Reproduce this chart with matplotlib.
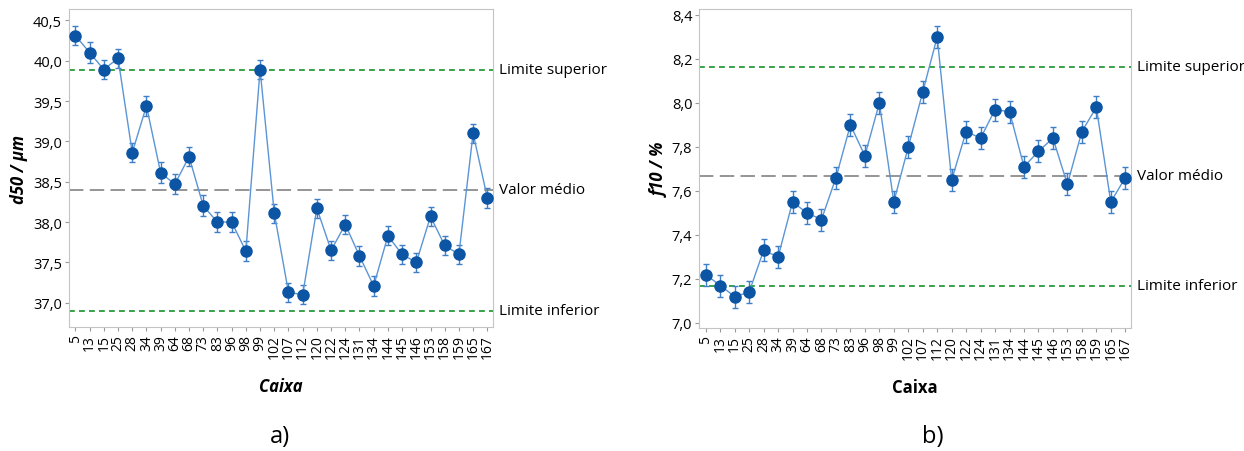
import matplotlib
matplotlib.use("Agg")
import matplotlib.pyplot as plt
from matplotlib.ticker import FuncFormatter, MultipleLocator

plt.rcParams['font.family'] = ['Open Sans', 'DejaVu Sans']

caixas = ['5', '13', '15', '25', '28', '34', '39', '64', '68', '73', '83', '96', '98', '99', '102',
          '107', '112', '120', '122', '124', '131', '134', '144', '145', '146', '153', '158', '159',
          '165', '167']

d50 = [40.31, 40.10, 39.89, 40.03, 38.86, 39.44, 38.61, 38.47, 38.81, 38.20, 38.00, 38.00, 37.64,
       39.89, 38.11, 37.13, 37.10, 38.17, 37.65, 37.97, 37.58, 37.21, 37.83, 37.60, 37.50, 38.07,
       37.71, 37.60, 39.10, 38.30]
d50_err = [0.12, 0.13, 0.12, 0.12, 0.12, 0.12, 0.13, 0.12, 0.12, 0.13, 0.12, 0.12, 0.12,
           0.12, 0.12, 0.12, 0.12, 0.12, 0.12, 0.12, 0.12, 0.12, 0.12, 0.12, 0.12, 0.12,
           0.12, 0.12, 0.12, 0.12]
d50_sup, d50_med, d50_inf = 39.89, 38.40, 36.90

f10 = [7.22, 7.17, 7.12, 7.14, 7.33, 7.30, 7.55, 7.50, 7.47, 7.66, 7.90, 7.76, 8.00, 7.55, 7.80,
       8.05, 8.30, 7.65, 7.87, 7.84, 7.97, 7.96, 7.71, 7.78, 7.84, 7.63, 7.87, 7.98, 7.55, 7.66]
f10_err = [0.05, 0.05, 0.05, 0.05, 0.05, 0.05, 0.05, 0.05, 0.05, 0.05, 0.05, 0.05, 0.05, 0.05, 0.05,
           0.05, 0.05, 0.05, 0.05, 0.05, 0.05, 0.05, 0.05, 0.05, 0.05, 0.05, 0.05, 0.05, 0.05, 0.05]
f10_sup, f10_med, f10_inf = 8.165, 7.67, 7.17

comma = FuncFormatter(lambda v, p: ('%.1f' % v).replace('.', ','))

fig = plt.figure(figsize=(12.44, 4.52), dpi=100)
ax1 = fig.add_axes([0.0555, 0.2743, 0.3408, 0.7036])
ax2 = fig.add_axes([0.5621, 0.2721, 0.3471, 0.7058])


def painel(ax, vals, errs, sup, med, inf, ylim, ystep, ylabel, xstyle, ypad):
    x = list(range(len(caixas)))
    ax.errorbar(x, vals, yerr=errs, fmt='none', ecolor='#3f7fc8', elinewidth=1,
                capsize=2, capthick=1, zorder=2)
    ax.plot(x, vals, '-', color='#5b95d5', lw=1, zorder=3)
    ax.plot(x, vals, 'o', color='#0b55a4', ms=8, zorder=4)
    ax.axhline(sup, color='#17922a', ls=(0, (3.5, 2.5)), lw=1.2, zorder=1)
    ax.axhline(inf, color='#17922a', ls=(0, (3.5, 2.5)), lw=1.2, zorder=1)
    ax.axhline(med, color='#8c8c8c', ls=(0, (8, 3.5)), lw=1.3, zorder=1)
    ax.set_xlim(-0.45, len(caixas) - 0.6)
    ax.set_ylim(*ylim)
    ax.set_xticks(x)
    ax.set_xticklabels(caixas, rotation=90, fontsize=10)
    ax.yaxis.set_major_locator(MultipleLocator(ystep))
    ax.yaxis.set_major_formatter(comma)
    ax.tick_params(axis='y', labelsize=10.5, length=3, color='#9a9a9a', pad=2)
    ax.tick_params(axis='x', length=3, color='#9a9a9a', pad=2)
    for s in ax.spines.values():
        s.set_color('#c4c4c4')
    ax.set_ylabel(ylabel, fontsize=12, fontweight='bold', style='italic', labelpad=ypad)
    ax.set_xlabel('Caixa', fontsize=12, fontweight='bold', style=xstyle, labelpad=14)
    for yv, txt in [(sup, 'Limite superior'), (med, 'Valor médio'), (inf, 'Limite inferior')]:
        ax.annotate(txt, xy=(1, yv), xycoords=('axes fraction', 'data'), xytext=(4, 0),
                    textcoords='offset points', va='center', ha='left', fontsize=11)


painel(ax1, d50, d50_err, d50_sup, d50_med, d50_inf, (36.70, 40.64), 0.5, 'd50 / µm', 'italic', 4)
painel(ax2, f10, f10_err, f10_sup, f10_med, f10_inf, (6.977, 8.427), 0.2, 'f10 / %', 'normal', 2)

fig.text(280 / 1244, 1 - 437 / 452, 'a)', fontsize=17, ha='center', va='center')
fig.text(933 / 1244, 1 - 437 / 452, 'b)', fontsize=17, ha='center', va='center')

fig.savefig('out.png', dpi=100)
